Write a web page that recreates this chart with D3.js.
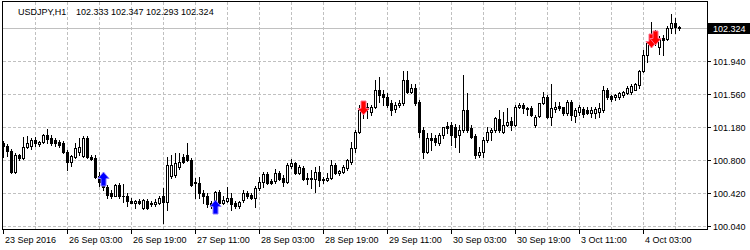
<!DOCTYPE html>
<meta charset="utf-8">

<!-- Load d3.js -->
<script src="https://d3js.org/d3.v7.min.js"></script>

<style>
  body { margin: 0; background: #fff; }
  text { font-family: "Liberation Sans", Arial, sans-serif; font-size: 9px; fill: #000; }
</style>

<!-- Create a div where the graph will take place -->
<div id="my_dataviz"></div>

<script>
// USDJPY H1 bars, 23 Sep 2016 11:00 .. 4 Oct 2016
var opens = [
  101.00,100.96,100.90,100.66,100.86,100.82,100.95,100.96,101.03,100.98,
  101.01,101.09,101.05,101.03,101.01,101.00,100.89,100.78,100.83,100.89,
  100.85,101.05,100.83,100.82,100.62,100.55,100.49,100.42,100.39,100.51,
  100.39,100.39,100.33,100.31,100.33,100.25,100.33,100.29,100.29,100.31,
  100.38,100.32,100.62,100.63,100.72,100.83,100.86,100.80,100.55,100.54,
  100.42,100.39,100.30,100.31,100.43,100.31,100.33,100.36,100.30,100.27,
  100.34,100.42,100.40,100.36,100.48,100.55,100.64,100.56,100.56,100.65,
  100.59,100.55,100.73,100.77,100.65,100.71,100.59,100.58,100.58,100.66,
  100.58,100.57,100.59,100.74,100.65,100.66,100.71,100.78,100.94,101.12,
  101.41,101.41,101.35,101.41,101.61,101.56,101.52,101.46,101.39,101.43,
  101.46,101.72,101.58,101.63,101.47,101.15,100.89,101.05,101.05,101.00,
  101.09,101.19,101.20,101.18,101.09,101.15,101.38,101.17,101.08,100.86,
  100.89,101.03,101.12,101.15,101.27,101.12,101.20,101.25,101.20,101.41,
  101.43,101.40,101.40,101.20,101.31,101.46,101.53,101.30,101.39,101.42,
  101.41,101.34,101.47,101.31,101.35,101.39,101.38,101.34,101.34,101.35,
  101.38,101.61,101.54,101.52,101.53,101.55,101.57,101.58,101.61,101.66,
  101.82,102.01,102.15,102.24,102.10,102.20,102.19,102.32,102.38,102.333
];
var highs = [
  101.02,100.98,100.93,100.88,100.87,101.06,101.08,101.05,101.06,101.02,
  101.10,101.16,101.09,101.05,101.03,101.02,100.92,100.86,101.00,101.05,
  101.08,101.08,100.86,100.86,100.66,100.59,100.51,100.46,100.52,100.54,
  100.52,100.42,100.36,100.34,100.35,100.35,100.35,100.33,100.35,100.39,
  100.48,100.83,100.86,100.88,100.88,100.87,101.00,100.82,100.59,100.60,
  100.46,100.42,100.33,100.44,100.46,100.39,100.49,100.42,100.33,100.33,
  100.46,100.44,100.42,100.50,100.60,100.66,100.66,100.58,100.70,100.67,
  100.63,100.77,100.81,100.78,100.74,100.73,100.65,100.69,100.72,100.73,
  100.60,100.65,100.80,100.77,100.69,100.74,100.81,101.01,101.15,101.43,
  101.47,101.46,101.43,101.72,101.75,101.61,101.57,101.49,101.47,101.49,
  101.83,101.82,101.67,101.67,101.49,101.18,101.11,101.11,101.09,101.11,
  101.18,101.24,101.24,101.22,101.20,101.78,101.57,101.20,101.10,100.95,
  101.06,101.18,101.17,101.30,101.38,101.35,101.40,101.30,101.43,101.46,
  101.46,101.41,101.42,101.32,101.46,101.58,101.55,101.67,101.47,101.47,
  101.41,101.49,101.49,101.40,101.43,101.41,101.41,101.41,101.41,101.46,
  101.65,101.63,101.55,101.56,101.58,101.60,101.65,101.67,101.69,101.84,
  102.07,102.16,102.39,102.30,102.23,102.24,102.34,102.48,102.43,102.347
];
var lows = [
  100.83,100.85,100.65,100.65,100.80,100.81,100.94,100.93,100.96,100.96,
  101.00,101.00,100.97,100.96,100.95,100.88,100.69,100.73,100.82,100.86,
  100.83,100.82,100.80,100.59,100.50,100.46,100.36,100.36,100.38,100.36,
  100.32,100.27,100.30,100.25,100.29,100.24,100.24,100.27,100.27,100.29,
  100.07,100.23,100.59,100.60,100.70,100.77,100.79,100.50,100.36,100.36,
  100.31,100.26,100.25,100.29,100.29,100.29,100.32,100.23,100.25,100.25,
  100.32,100.36,100.35,100.26,100.46,100.49,100.52,100.52,100.54,100.57,
  100.50,100.54,100.71,100.64,100.64,100.57,100.52,100.48,100.43,100.50,
  100.54,100.56,100.58,100.64,100.63,100.65,100.69,100.75,100.89,101.11,
  101.28,101.28,101.32,101.40,101.47,101.43,101.41,101.32,101.35,101.41,
  101.43,101.57,101.57,101.43,101.06,100.82,100.88,100.92,100.97,100.97,
  101.05,101.11,100.97,100.95,100.89,101.12,101.12,101.05,100.82,100.83,
  100.83,101.01,101.03,101.12,101.12,101.11,101.19,101.15,101.19,101.40,
  101.34,101.32,101.31,101.18,101.30,101.45,101.28,101.20,101.35,101.38,
  101.32,101.32,101.26,101.24,101.32,101.30,101.33,101.30,101.28,101.30,
  101.35,101.50,101.48,101.49,101.50,101.53,101.56,101.56,101.61,101.63,
  101.81,101.93,102.10,102.12,102.02,102.01,102.18,102.26,102.26,102.293
];
var closes = [
  100.96,100.90,100.66,100.86,100.82,100.95,101.00,101.03,101.00,101.01,
  101.09,101.04,101.00,101.00,100.97,100.89,100.78,100.85,100.94,100.95,
  101.05,100.83,100.81,100.60,100.55,100.49,100.40,100.39,100.51,100.38,
  100.38,100.33,100.31,100.33,100.31,100.34,100.25,100.31,100.32,100.36,
  100.32,100.74,100.74,100.77,100.78,100.78,100.80,100.51,100.54,100.42,
  100.39,100.29,100.27,100.43,100.31,100.34,100.36,100.29,100.27,100.32,
  100.42,100.39,100.36,100.48,100.55,100.64,100.54,100.54,100.65,100.58,
  100.55,100.74,100.77,100.65,100.72,100.58,100.58,100.59,100.66,100.57,
  100.57,100.59,100.74,100.65,100.67,100.72,100.80,100.94,101.12,101.38,
  101.38,101.39,101.41,101.61,101.55,101.52,101.43,101.38,101.43,101.46,
  101.72,101.58,101.63,101.46,101.12,100.89,101.05,101.03,101.01,101.09,
  101.18,101.17,101.09,101.06,101.15,101.38,101.15,101.06,100.86,100.89,
  101.03,101.12,101.15,101.28,101.15,101.20,101.24,101.20,101.41,101.43,
  101.40,101.39,101.32,101.30,101.46,101.53,101.30,101.40,101.41,101.40,
  101.34,101.47,101.32,101.38,101.41,101.33,101.34,101.38,101.39,101.40,
  101.61,101.53,101.50,101.55,101.57,101.58,101.63,101.65,101.67,101.82,
  102.01,102.15,102.24,102.16,102.20,102.18,102.32,102.38,102.33,102.324
];

// time axis labels and the bar each one sits on
var timeLabels = ["23 Sep 2016", "26 Sep 03:00", "26 Sep 19:00", "27 Sep 11:00", "28 Sep 03:00",
  "28 Sep 19:00", "29 Sep 11:00", "30 Sep 03:00", "30 Sep 19:00", "3 Oct 11:00", "4 Oct 03:00"];
var timeLabelBars = [0, 16, 32, 48, 64, 80, 96, 112, 128, 144, 160];

// price axis
var priceTicks = [100.040, 100.420, 100.800, 101.180, 101.560, 101.940];
var lastPrice = 102.324;

// signal arrows (tip price)
var upArrowBars = [25, 53];
var upArrowPrices = [100.66, 100.34];
var downArrowBars = [90, 162, 163];
var downArrowPrices = [101.32, 102.09, 102.13];

var width = 750, height = 250;
var plot = {left: 2, right: 707, top: 1, bottom: 229};

var svg = d3.select("#my_dataviz")
  .append("svg")
    .attr("width", width)
    .attr("height", height)
    .style("display", "block");

svg.append("rect").attr("width", width).attr("height", height).attr("fill", "#fff");

var x = d3.scaleLinear().domain([0, closes.length - 1]).range([3, 3 + 4 * (closes.length - 1)]);
var y = d3.scaleLinear().domain([100.04, 101.94]).range([226, 61]);
var py = v => Math.round(y(v));

svg.append("defs").append("clipPath").attr("id", "clip")
  .append("rect")
    .attr("x", plot.left + 1).attr("y", plot.top + 1)
    .attr("width", plot.right - plot.left - 1).attr("height", plot.bottom - plot.top - 1);

// grid
var grid = svg.append("g")
    .attr("stroke", "#c0c0c0")
    .attr("stroke-dasharray", "3,2")
    .attr("shape-rendering", "crispEdges");

grid.selectAll(null)
  .data(priceTicks)
  .join("line")
    .attr("x1", plot.left + 1).attr("x2", plot.right)
    .attr("y1", d => py(d) + 0.5).attr("y2", d => py(d) + 0.5);

grid.selectAll(null)
  .data(d3.range(8, closes.length + 40, 8).filter(i => x(i) < plot.right))
  .join("line")
    .attr("x1", d => x(d) + 0.5).attr("x2", d => x(d) + 0.5)
    .attr("y1", plot.top + 1).attr("y2", plot.bottom);

// current price line
svg.append("line")
    .attr("x1", plot.left + 1).attr("x2", plot.right)
    .attr("y1", py(lastPrice) + 0.5).attr("y2", py(lastPrice) + 0.5)
    .attr("stroke", "#c0c0c0")
    .attr("shape-rendering", "crispEdges");

// candles
var bars = d3.range(closes.length).map(i => ({i: i, o: opens[i], h: highs[i], l: lows[i], c: closes[i]}));

var candles = svg.append("g")
    .attr("clip-path", "url(#clip)")
    .attr("shape-rendering", "crispEdges");

candles.selectAll(null)
  .data(bars)
  .join("line")
    .attr("x1", d => x(d.i) + 0.5).attr("x2", d => x(d.i) + 0.5)
    .attr("y1", d => py(d.h)).attr("y2", d => py(d.l) + 1)
    .attr("stroke", "#000");

candles.selectAll(null)
  .data(bars.filter(d => d.c < d.o))
  .join("rect")
    .attr("x", d => x(d.i) - 1)
    .attr("y", d => py(d.o))
    .attr("width", 3)
    .attr("height", d => py(d.c) - py(d.o) + 1)
    .attr("fill", "#000");

candles.selectAll(null)
  .data(bars.filter(d => d.c >= d.o))
  .join("rect")
    .attr("x", d => x(d.i) - 0.5)
    .attr("y", d => py(d.c) + 0.5)
    .attr("width", 2)
    .attr("height", d => Math.max(py(d.o) - py(d.c), 0))
    .attr("fill", "#fff")
    .attr("stroke", "#000");

// arrows
var upPath = "M0,0L5.5,6.5L2.5,6.5L2.5,14L-2.5,14L-2.5,6.5L-5.5,6.5Z";
var downPath = "M0,0L5.5,-6.5L2.5,-6.5L2.5,-14L-2.5,-14L-2.5,-6.5L-5.5,-6.5Z";

svg.append("g").selectAll(null)
  .data(upArrowBars.map((b, k) => ({b: b, p: upArrowPrices[k]})))
  .join("path")
    .attr("d", upPath)
    .attr("transform", d => `translate(${x(d.b) + 0.5},${py(d.p)})`)
    .attr("fill", "#0000ff")
    .attr("stroke", "#8a7cff")
    .attr("stroke-width", 1);

svg.append("g").selectAll(null)
  .data(downArrowBars.map((b, k) => ({b: b, p: downArrowPrices[k]})))
  .join("path")
    .attr("d", downPath)
    .attr("transform", d => `translate(${x(d.b) + 0.5},${py(d.p)})`)
    .attr("fill", "#ff0000")
    .attr("stroke", "#ff6a8a")
    .attr("stroke-width", 1);

// frame
var frame = svg.append("g").attr("stroke", "#000").attr("shape-rendering", "crispEdges");
frame.append("line").attr("x1", plot.left).attr("x2", plot.right + 1).attr("y1", plot.top + 0.5).attr("y2", plot.top + 0.5);
frame.append("line").attr("x1", plot.left).attr("x2", plot.right + 1).attr("y1", plot.bottom + 0.5).attr("y2", plot.bottom + 0.5);
frame.append("line").attr("x1", plot.left + 0.5).attr("x2", plot.left + 0.5).attr("y1", plot.top).attr("y2", plot.bottom + 1);
frame.append("line").attr("x1", plot.right + 0.5).attr("x2", plot.right + 0.5).attr("y1", plot.top).attr("y2", plot.bottom + 1);

// price axis
var yAxis = svg.append("g");
yAxis.selectAll(null)
  .data(priceTicks)
  .join("line")
    .attr("x1", plot.right + 1).attr("x2", plot.right + 4)
    .attr("y1", d => py(d) + 0.5).attr("y2", d => py(d) + 0.5)
    .attr("stroke", "#000")
    .attr("shape-rendering", "crispEdges");
yAxis.selectAll(null)
  .data(priceTicks)
  .join("text")
    .attr("x", plot.right + 6)
    .attr("y", d => py(d) + 4)
    .text(d => d.toFixed(3));

yAxis.append("rect")
    .attr("x", plot.right + 1).attr("y", py(lastPrice) - 5)
    .attr("width", width - plot.right - 1).attr("height", 11)
    .attr("fill", "#000");
yAxis.append("text")
    .attr("x", plot.right + 6)
    .attr("y", py(lastPrice) + 4)
    .style("fill", "#fff")
    .text(lastPrice.toFixed(3));

// time axis
var xAxis = svg.append("g");
xAxis.selectAll(null)
  .data(timeLabelBars)
  .join("line")
    .attr("x1", d => x(d) + 0.5).attr("x2", d => x(d) + 0.5)
    .attr("y1", plot.bottom + 1).attr("y2", plot.bottom + 5)
    .attr("stroke", "#000")
    .attr("shape-rendering", "crispEdges");
xAxis.selectAll(null)
  .data(timeLabelBars)
  .join("text")
    .attr("x", d => x(d) + 2)
    .attr("y", 243)
    .text((d, k) => timeLabels[k]);

// title
svg.append("text").attr("x", 18).attr("y", 15).text("USDJPY,H1");
svg.append("text").attr("x", 76).attr("y", 15)
    .text([opens, highs, lows, closes].map(a => a[a.length - 1].toFixed(3)).join(" "));
</script>
